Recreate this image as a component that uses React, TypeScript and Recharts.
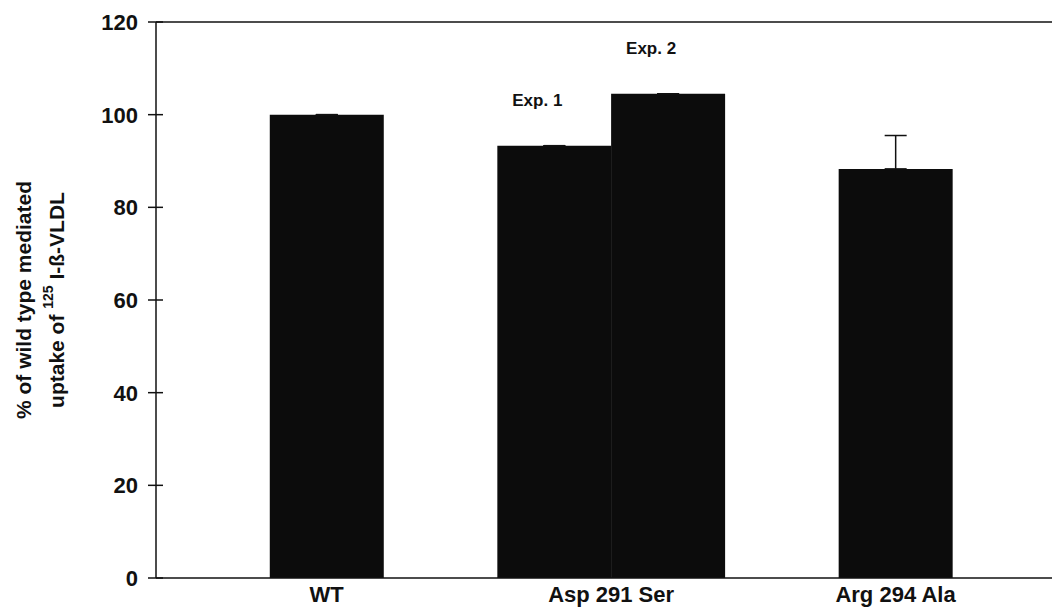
import React from 'react';
import { BarChart, Bar, XAxis, YAxis, ErrorBar, LabelList, ReferenceLine } from 'recharts';

// group positions on the x axis (1 = WT, 2 = Asp 291 Ser, 3 = Arg 294 Ala)
const groups = ['WT', 'Asp 291 Ser', 'Arg 294 Ala'];
const positions = [1, 1.8, 2.2, 3];
const uptake = [100, 93.3, 104.5, 88.3];
const errUp = [0, 0, 0, 7.2];
const notes = ['', 'Exp. 1', 'Exp. 2', ''];
const yTicks = [0, 20, 40, 60, 80, 100, 120];

const data = positions.map((pos, i) => ({
  pos,
  value: uptake[i],
  err: [0, errUp[i]],
  note: notes[i],
}));

const FONT = 'Arial, "Liberation Sans", sans-serif';

// y ticks cross the axis: out 8px, in 7px
const YTick = ({ x, y, payload }: any) => {
  const axisX = x + 10;
  return (
    <g>
      <line x1={axisX - 8} x2={axisX + 7} y1={y} y2={y} stroke="#111" strokeWidth={1.5} />
      <text x={x - 8} y={y} dy="0.36em" textAnchor="end" fontSize={22} fontWeight="bold" fill="#111" fontFamily={FONT}>
        {payload.value}
      </text>
    </g>
  );
};

const YLabel = ({ viewBox }: any) => {
  const cy = viewBox.y + viewBox.height / 2;
  return (
    <g fontFamily={FONT} fontWeight="bold" fontSize={21} fill="#111">
      <text x={23} y={cy} textAnchor="middle" dominantBaseline="central" transform={`rotate(-90, 23, ${cy})`}>
        % of wild type mediated
      </text>
      <text x={56} y={cy} textAnchor="middle" dominantBaseline="central" transform={`rotate(-90, 56, ${cy})`}>
        uptake of <tspan fontSize={14} dy={-8}>125</tspan>
        <tspan dy={8}> I-ß-VLDL</tspan>
      </text>
    </g>
  );
};

const NoteLabel = ({ x, y, width, value }: any) => {
  if (!value) return null;
  return (
    <text x={x + width / 2 - 17} y={y - 40} textAnchor="middle" fontSize={17} fontWeight="bold" fill="#111" fontFamily={FONT}>
      {value}
    </text>
  );
};

export default function App() {
  return (
    <div style={{ position: 'absolute', left: 0, top: 0, background: '#fff' }}>
      <BarChart
        width={1052}
        height={613}
        data={data}
        barCategoryGap={0}
        barGap={0}
        margin={{ top: 22, right: 0, bottom: 0, left: 0 }}
      >
        <XAxis
          type="number"
          dataKey="pos"
          domain={[0.4, 3.55]}
          ticks={[1, 2, 3]}
          tickFormatter={(v: number) => groups[v - 1]}
          allowDataOverflow
          height={35}
          tickLine={false}
          tickSize={0}
          tickMargin={8}
          axisLine={{ stroke: '#111', strokeWidth: 1.5 }}
          tick={{ fontSize: 22, fontWeight: 'bold', fill: '#111', fontFamily: FONT }}
        />
        <YAxis
          domain={[0, 120]}
          ticks={yTicks}
          width={156}
          tickLine={false}
          tickSize={8}
          tickMargin={2}
          axisLine={{ stroke: '#111', strokeWidth: 1.5 }}
          tick={<YTick />}
          label={{ content: <YLabel /> }}
        />
        <ReferenceLine y={120} stroke="#111" strokeWidth={1.5} />
        <Bar dataKey="value" fill="#0c0c0c" isAnimationActive={false}>
          <ErrorBar dataKey="err" width={11} stroke="#111" strokeWidth={1.5} direction="y" />
          <LabelList dataKey="note" content={<NoteLabel />} />
        </Bar>
      </BarChart>
    </div>
  );
}
